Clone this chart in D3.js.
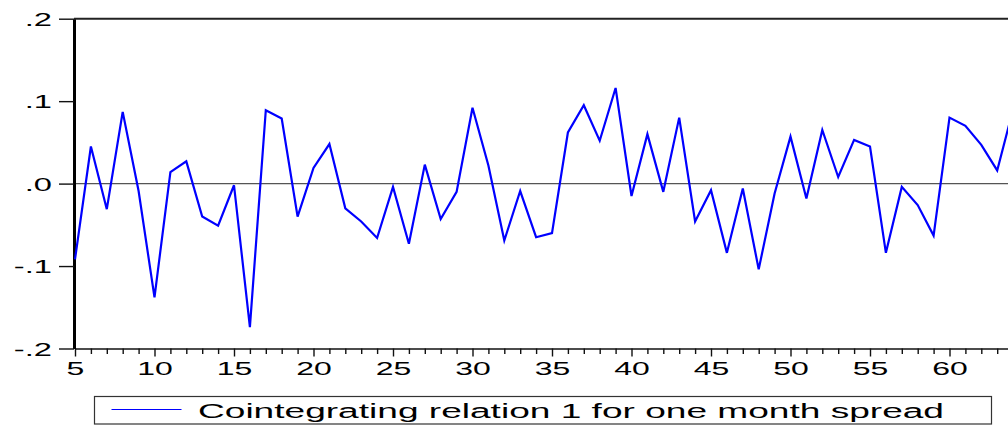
<!DOCTYPE html>
<html>
<head>
<meta charset="utf-8">
<script src="https://cdn.jsdelivr.net/npm/d3@7/dist/d3.min.js"></script>
<style>
  html, body { margin: 0; padding: 0; background: #fff; }
  svg { display: block; font-family: "Liberation Sans", Arial, sans-serif; }
</style>
</head>
<body>
<svg id="chart" width="1008" height="428"></svg>
<script>
// Observation index and cointegrating relation values
const periods = [5, 6, 7, 8, 9, 10, 11, 12, 13, 14, 15, 16, 17, 18, 19, 20, 21, 22, 23, 24,
  25, 26, 27, 28, 29, 30, 31, 32, 33, 34, 35, 36, 37, 38, 39, 40, 41, 42, 43, 44,
  45, 46, 47, 48, 49, 50, 51, 52, 53, 54, 55, 56, 57, 58, 59, 60, 61, 62, 63, 64];
const relation = [-0.092, 0.045, -0.031, 0.087, -0.009, -0.138, 0.014, 0.027, -0.040, -0.051,
  -0.002, -0.174, 0.089, 0.079, -0.040, 0.019, 0.048, -0.030, -0.046, -0.066,
  -0.004, -0.073, 0.023, -0.043, -0.010, 0.092, 0.022, -0.069, -0.009, -0.065,
  -0.060, 0.062, 0.095, 0.052, 0.116, -0.015, 0.060, -0.010, 0.080, -0.046,
  -0.008, -0.084, -0.006, -0.104, -0.012, 0.057, -0.018, 0.065, 0.008, 0.053,
  0.045, -0.084, -0.004, -0.026, -0.063, 0.080, 0.070, 0.047, 0.016, 0.090];
const yTickValues = [-0.2, -0.1, 0.0, 0.1, 0.2];
const yTickLabels = ["-.2", "-.1", ".0", ".1", ".2"];
const xMajorTicks = [5, 10, 15, 20, 25, 30, 35, 40, 45, 50, 55, 60];
const seriesName = "Cointegrating relation 1 for one month spread";

const svg = d3.select("#chart");
const W = 1008;
const plotLeft = 75, plotTop = 18.7, plotBottom = 348.5;
const unit = 15.9;

const x = d3.scaleLinear().domain([5, 64]).range([plotLeft, plotLeft + 59 * unit]);
const y = d3.scaleLinear().domain([-0.2, 0.2]).range([plotBottom, plotTop]);

const stretch = 1.72;

// Frame: top rule
svg.append("line")
  .attr("x1", plotLeft - 1).attr("x2", W)
  .attr("y1", plotTop).attr("y2", plotTop)
  .attr("stroke", "#222").attr("stroke-width", 2);

// Zero reference line
svg.append("line")
  .attr("x1", plotLeft).attr("x2", W)
  .attr("y1", y(0)).attr("y2", y(0))
  .attr("stroke", "#555").attr("stroke-width", 1.4);

// Bottom axis with minor ticks every period, longer ticks at multiples of 5
const xAxis = svg.append("g")
  .attr("transform", `translate(0,${plotBottom})`)
  .call(d3.axisBottom(x).tickValues(d3.range(5, 65)).tickSize(6).tickSizeOuter(0).tickFormat(""));
xAxis.select(".domain").attr("stroke", "#111").attr("stroke-width", 1.6);
xAxis.selectAll(".tick line")
  .attr("stroke", "#111").attr("stroke-width", 1.4)
  .attr("y2", d => xMajorTicks.includes(d) ? 8 : 5.5);

xAxis.selectAll(".tick")
  .filter(d => xMajorTicks.includes(d))
  .append("text")
  .attr("x", 0).attr("y", 26.5)
  .attr("text-anchor", "middle")
  .attr("fill", "#000")
  .attr("font-size", 18.6)
  .attr("transform", `scale(${stretch},1)`)
  .text(d => d);

// Left axis: heavy spine with outward ticks
const yAxis = svg.append("g")
  .attr("transform", `translate(${plotLeft - 1},0)`)
  .call(d3.axisLeft(y).tickValues(yTickValues).tickSize(15).tickSizeOuter(0).tickFormat(""));
yAxis.select(".domain").attr("stroke", "#000").attr("stroke-width", 3);
yAxis.selectAll(".tick line").attr("stroke", "#111").attr("stroke-width", 1.4);
yAxis.selectAll(".tick")
  .append("text")
  .attr("x", 0).attr("y", 0)
  .attr("dy", "0.36em")
  .attr("text-anchor", "end")
  .attr("fill", "#000")
  .attr("font-size", 19)
  .attr("transform", `translate(-22,0) scale(${stretch},1)`)
  .text((d, i) => yTickLabels[i]);

// Series line
const points = periods.map((p, i) => [p, relation[i]]);
svg.append("path")
  .datum(points)
  .attr("fill", "none")
  .attr("stroke", "#0000ff")
  .attr("stroke-width", 2.2)
  .attr("stroke-linejoin", "miter")
  .attr("d", d3.line().x(d => x(d[0])).y(d => y(d[1])));

// Legend
const legend = svg.append("g");
legend.append("rect")
  .attr("x", 94.5).attr("y", 396.5)
  .attr("width", 897).attr("height", 27.5)
  .attr("fill", "#fff")
  .attr("stroke", "#333").attr("stroke-width", 1.2);
legend.append("line")
  .attr("x1", 111.5).attr("x2", 181.5)
  .attr("y1", 409.5).attr("y2", 409.5)
  .attr("stroke", "#0000ff").attr("stroke-width", 1.2);
legend.append("text")
  .attr("x", 198).attr("y", 418)
  .attr("font-size", 20)
  .attr("fill", "#000")
  .attr("textLength", 746)
  .attr("lengthAdjust", "spacingAndGlyphs")
  .text(seriesName);
</script>
</body>
</html>
